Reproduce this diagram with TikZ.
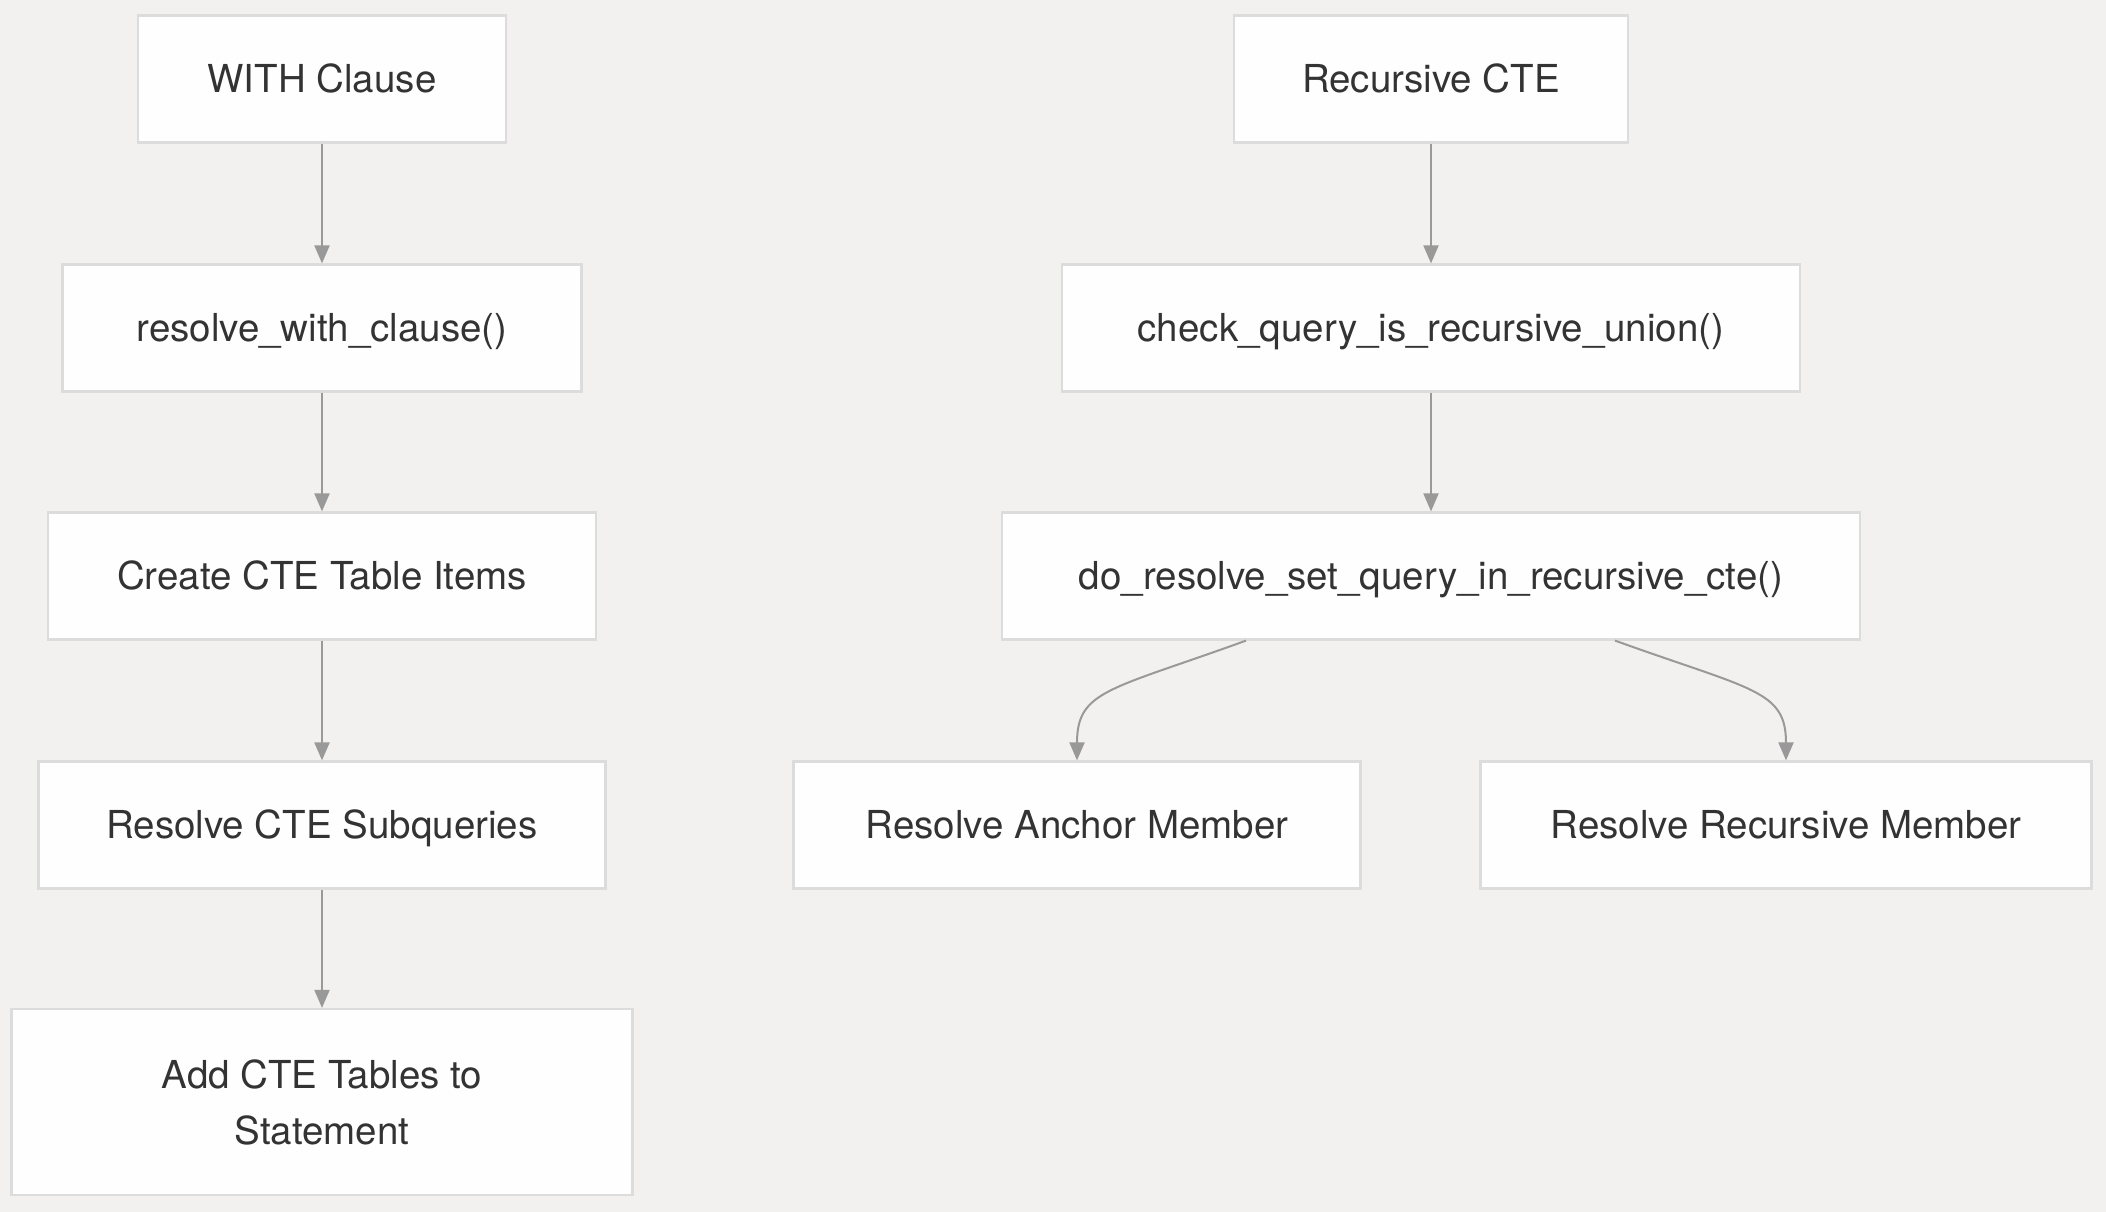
\documentclass[tikz,border=0pt]{standalone}
\usepackage{fontspec}
\setmainfont{TeX Gyre Heros}
\usetikzlibrary{arrows.meta}
\definecolor{bgc}{HTML}{F2F1F0}
\definecolor{boxline}{HTML}{DCDCDC}
\definecolor{boxfill}{HTML}{FEFEFE}
\definecolor{txt}{HTML}{333333}
\definecolor{edgec}{HTML}{999999}
\tikzset{
  box/.style={draw=boxline, line width=2.2pt, fill=boxfill, rectangle, inner sep=0pt,
    minimum height=127pt, text=txt, align=center,
    font=\fontsize{38.5}{56}\selectfont},
  oneline/.style={text height=27.7pt, text depth=0pt},
  conn/.style={draw=edgec, line width=2pt, -{Triangle[length=18pt,width=15pt]}}
}
\begin{document}
\begin{tikzpicture}[x=1pt,y=-1pt]
\fill[bgc] (0,0) rectangle (2106,1212);
\useasboundingbox (0,0) rectangle (2106,1212);
% left column
\node[box, oneline, minimum width=368pt] (with) at (322,79) {WITH Clause};
\node[box, oneline, minimum width=519pt] (rwc) at (322,328) {resolve\_with\_clause()};
\node[box, oneline, minimum width=548pt] (cte) at (322,576) {Create CTE Table Items};
\node[box, oneline, minimum width=567pt] (sub) at (322,825) {Resolve CTE Subqueries};
\node[box, minimum width=621pt, minimum height=186pt] (add) at (322,1102) {Add CTE Tables to\\Statement};
% right column
\node[box, oneline, minimum width=394pt] (rec) at (1431,79) {Recursive CTE};
\node[box, oneline, minimum width=738pt] (chk) at (1431,328) {check\_query\_is\_recursive\_union()};
\node[box, oneline, minimum width=858pt] (dor) at (1431,576) {do\_resolve\_set\_query\_in\_recursive\_cte()};
\node[box, oneline, minimum width=567pt] (anc) at (1077,825) {Resolve Anchor Member};
\node[box, oneline, minimum width=611pt] (rmem) at (1786,825) {Resolve Recursive Member};
% edges
\draw[conn] (with.south) -- (rwc.north);
\draw[conn] (rwc.south) -- (cte.north);
\draw[conn] (cte.south) -- (sub.north);
\draw[conn] (sub.south) -- (add.north);
\draw[conn] (rec.south) -- (chk.north);
\draw[conn] (chk.south) -- (dor.north);
\draw[conn] ([xshift=-185pt]dor.south) .. controls (1110,690) and (1077,690) .. (anc.north);
\draw[conn] ([xshift=184pt]dor.south) .. controls (1752,690) and (1786,690) .. (rmem.north);
\end{tikzpicture}
\end{document}
